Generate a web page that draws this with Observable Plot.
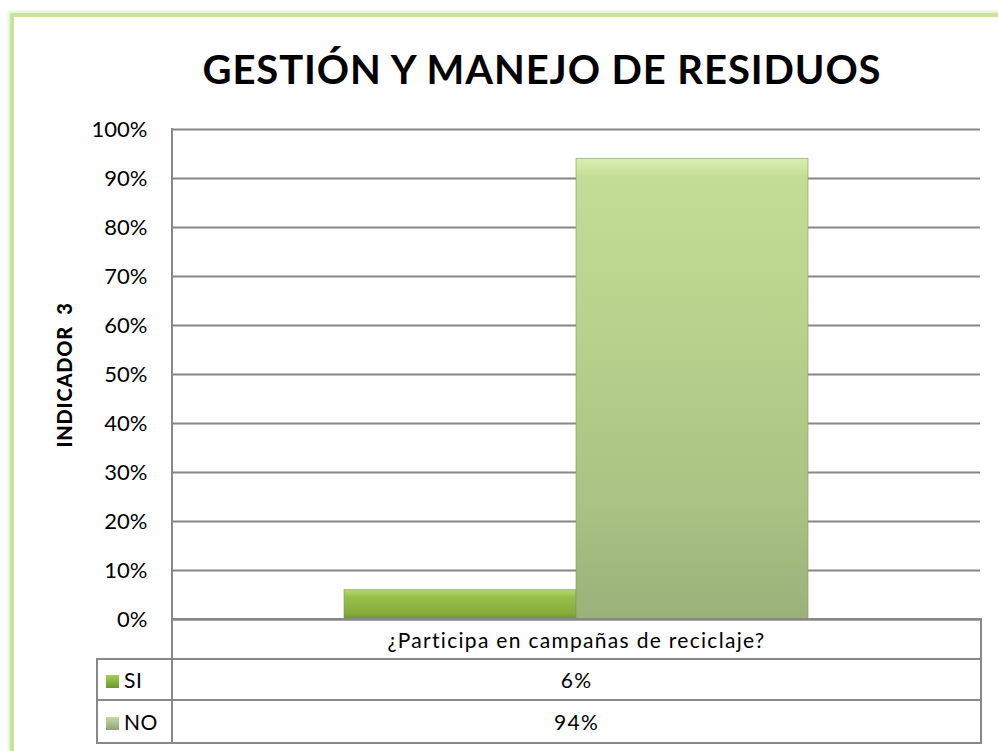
<!DOCTYPE html>
<html>
<head>
<meta charset="utf-8">
<script src="https://cdn.jsdelivr.net/npm/d3@7"></script>
<script src="https://cdn.jsdelivr.net/npm/@observablehq/plot@0.6"></script>
<style>
  html, body { margin: 0; padding: 0; background: #fff; }
  #wrap { position: relative; width: 998px; height: 751px; overflow: hidden; background: #fff; font-family: Lato, "Open Sans", sans-serif; color: #000; }
  #frame { position: absolute; left: 10px; top: 13px; width: 1200px; height: 1000px;
           border-top: 4px solid #c9e39f; border-left: 4px solid #c9e39f;
           box-shadow: -2px -2px 3px #e4f1cf; }
  #title { position: absolute; left: 100px; width: 884px; top: 44px; text-align: center;
           font-weight: 700; font-size: 40px; line-height: 50px; letter-spacing: 0.9px; }
  #ylabel { position: absolute; left: 64px; top: 375px; transform: translate(-50%, -50%) rotate(-90deg);
            font-weight: 900; font-size: 20px; letter-spacing: 0.8px; white-space: pre; }
  #chart { position: absolute; left: 0; top: 0; }
  #axisline { position: absolute; left: 171px; top: 128px; width: 2px; height: 492px; background: #888; }
  table { position: absolute; left: 96px; top: 618px; border-collapse: collapse; font-size: 21px; letter-spacing: 1.3px; }
  td { border: 2px solid #888; padding: 0; text-align: center; }
  td.blank { border: none; }
  td.hdr { text-align: left; padding-left: 8px; letter-spacing: 0.5px; }
  .sw { display: inline-block; width: 13px; height: 13px; margin-right: 5px; vertical-align: 0px; }
</style>
</head>
<body>
<div id="wrap">
  <div id="frame"></div>
  <div id="chart"></div>
  <div id="axisline"></div>
  <div id="title"></div>
  <div id="ylabel"></div>
  <table id="tbl"></table>
</div>
<script>
const title = "GESTIÓN Y MANEJO DE RESIDUOS";
const yTitle = "INDICADOR  3";
const categories = ["¿Participa en campañas de reciclaje?"];
const series = ["SI", "NO"];
const values = [0.06, 0.94];
const yTicks = [0, 0.1, 0.2, 0.3, 0.4, 0.5, 0.6, 0.7, 0.8, 0.9, 1.0];
const colors = ["url(#gSI)", "url(#gNO)"];
const swatch = ["linear-gradient(#a6cf55, #6e952d)", "linear-gradient(#c6dca6, #8ea477)"];

const data = series.map((s, i) => ({category: categories[0], series: s, value: values[i]}));
const fmt = d3.format(".0%");

document.getElementById("title").textContent = title;
document.getElementById("ylabel").textContent = yTitle;

const chart = Plot.plot({
  width: 998,
  height: 751,
  marginLeft: 172,
  marginRight: 18,
  marginTop: 129,
  marginBottom: 132,
  style: {background: "transparent", fontFamily: "Lato, 'Open Sans', sans-serif", fontSize: "22px", color: "#000"},
  x: {domain: series, paddingInner: 0, paddingOuter: 0.734, axis: null},
  y: {domain: [0, 1], ticks: yTicks, tickFormat: fmt, label: null},
  marks: [
    Plot.gridY(yTicks, {stroke: "#888", strokeOpacity: 1, strokeWidth: 2}),
    Plot.axisY(yTicks, {tickSize: 0, tickPadding: 25, tickFormat: fmt, label: null}),
    Plot.barY(data, {x: "series", y: "value", fill: (d) => colors[series.indexOf(d.series)], stroke: "#7f9a5e", strokeWidth: 1, strokeOpacity: 0.6}),
    Plot.ruleY([0], {stroke: "#888", strokeWidth: 2})
  ]
});

const defs = d3.select(chart).insert("defs", ":first-child");
const g1 = defs.append("linearGradient").attr("id", "gSI").attr("x1", 0).attr("x2", 0).attr("y1", 0).attr("y2", 1);
g1.append("stop").attr("offset", "0%").attr("stop-color", "#b7d972");
g1.append("stop").attr("offset", "25%").attr("stop-color", "#98c048");
g1.append("stop").attr("offset", "80%").attr("stop-color", "#86ad3c");
g1.append("stop").attr("offset", "100%").attr("stop-color", "#6c922d");
const g2 = defs.append("linearGradient").attr("id", "gNO").attr("x1", 0).attr("x2", 0).attr("y1", 0).attr("y2", 1);
g2.append("stop").attr("offset", "0%").attr("stop-color", "#dbeeb4");
g2.append("stop").attr("offset", "4%").attr("stop-color", "#c3dd94");
g2.append("stop").attr("offset", "35%").attr("stop-color", "#b9d28d");
g2.append("stop").attr("offset", "75%").attr("stop-color", "#aac283");
g2.append("stop").attr("offset", "100%").attr("stop-color", "#9ab179");
document.getElementById("chart").appendChild(chart);

// Data table under the chart
const tbl = d3.select("#tbl");
const r1 = tbl.append("tr").style("height", "40px");
r1.append("td").attr("class", "blank").style("width", "74px");
r1.append("td").style("width", "807px").text(categories[0]);
series.forEach((s, i) => {
  const r = tbl.append("tr").style("height", i === 0 ? "41px" : "43px");
  const h = r.append("td").attr("class", "hdr");
  h.append("span").attr("class", "sw").style("background", swatch[i]);
  h.append("span").text(s);
  r.append("td").text(fmt(values[i]));
});
</script>
</body>
</html>
